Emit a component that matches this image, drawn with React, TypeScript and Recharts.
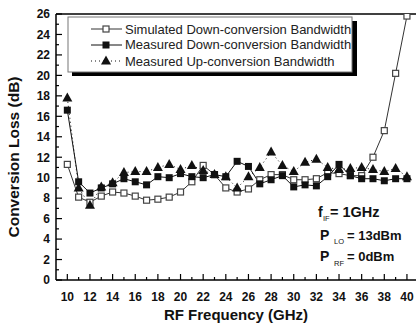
import { LineChart, Line, XAxis, YAxis, ReferenceLine, Customized } from 'recharts'

// RF frequency (GHz) and conversion loss (dB)
const freqs = [10, 11, 12, 13, 14, 15, 16, 17, 18, 19, 20, 21, 22, 23, 24, 25, 26, 27, 28, 29, 30, 31, 32, 33, 34, 35, 36, 37, 38, 39, 40]
const simulatedDown = [11.3, 8.1, 7.6, 8.2, 8.6, 8.5, 8.2, 7.8, 7.9, 8.1, 8.6, 9.6, 11.2, 10.3, 9.0, 8.6, 8.9, 9.8, 10.3, 10.3, 9.8, 9.8, 9.9, 10.5, 10.4, 10.2, 10.2, 12.0, 14.6, 20.2, 25.8]
const measuredDown = [16.6, 9.6, 8.5, 9.0, 9.4, 9.9, 9.6, 9.3, 10.1, 10.0, 10.4, 10.1, 10.0, 10.3, 10.1, 11.6, 11.1, 9.4, 9.8, 10.2, 9.1, 9.3, 9.2, 10.1, 11.3, 10.2, 9.9, 9.9, 9.7, 9.9, 9.9]
const measuredUp = [17.8, 9.0, 7.3, 9.1, 9.5, 10.5, 10.6, 10.6, 11.0, 11.3, 10.8, 11.2, 10.7, 10.3, 10.1, 9.0, 10.1, 11.0, 12.5, 11.2, 10.6, 11.5, 11.8, 11.0, 10.8, 10.9, 11.0, 10.8, 10.6, 10.9, 10.1]

const xTicks = [10, 11, 12, 13, 14, 15, 16, 17, 18, 19, 20, 21, 22, 23, 24, 25, 26, 27, 28, 29, 30, 31, 32, 33, 34, 35, 36, 37, 38, 39, 40]
const yTicks = [0, 1, 2, 3, 4, 5, 6, 7, 8, 9, 10, 11, 12, 13, 14, 15, 16, 17, 18, 19, 20, 21, 22, 23, 24, 25, 26]

const legendNames = ['Simulated Down-conversion Bandwidth', 'Measured Down-conversion Bandwidth', 'Measured Up-conversion Bandwidth']

const data = freqs.map((f, i) => ({ f, sim: simulatedDown[i], down: measuredDown[i], up: measuredUp[i] }))

const FONT = '"Liberation Sans", Arial, sans-serif'

const OpenSquare = ({ cx, cy }: any) => (
  <rect x={cx - 3} y={cy - 3} width={6} height={6} fill="#fff" stroke="#444" strokeWidth={1.2} />
)
const FilledSquare = ({ cx, cy }: any) => (
  <rect x={cx - 3.5} y={cy - 3.5} width={7} height={7} fill="#111" />
)
const Triangle = ({ cx, cy }: any) => (
  <polygon points={`${cx},${cy - 5.5} ${cx - 5},${cy + 3.5} ${cx + 5},${cy + 3.5}`} fill="#111" />
)

const XTick = ({ x, y, payload }: any) => {
  const major = payload.value % 2 === 0
  return (
    <g>
      <line x1={x} y1={y} x2={x} y2={y - (major ? 6 : 3)} stroke="#000" strokeWidth={1.2} />
      {major && (
        <text x={x} y={y + 21} textAnchor="middle" fontSize={12} fontWeight="bold" fontFamily={FONT} fill="#111">
          {payload.value}
        </text>
      )}
    </g>
  )
}

const YTick = ({ x, y, payload }: any) => {
  const major = payload.value % 2 === 0
  return (
    <g>
      <line x1={x} y1={y} x2={x + (major ? 6 : 3)} y2={y} stroke="#000" strokeWidth={1.2} />
      {major && (
        <text x={x - 6} y={y + 4.3} textAnchor="end" fontSize={12} fontWeight="bold" fontFamily={FONT} fill="#111">
          {payload.value}
        </text>
      )}
    </g>
  )
}

const Extras = () => (
  <g fontFamily={FONT}>
    {/* legend box with drop shadow */}
    <rect x={72} y={21} width={285} height={55} fill="#000" />
    <rect x={68} y={17} width={284} height={55} fill="#fff" stroke="#777" strokeWidth={1} />
    <line x1={91} y1={29} x2={122} y2={29} stroke="#333" strokeWidth={1} />
    <OpenSquare cx={106} cy={29} />
    <line x1={91} y1={45} x2={122} y2={45} stroke="#111" strokeWidth={1} />
    <FilledSquare cx={106} cy={45} />
    <line x1={91} y1={61} x2={122} y2={61} stroke="#111" strokeWidth={1} strokeDasharray="1 3" />
    <Triangle cx={106} cy={61} />
    {legendNames.map((n, i) => (
      <text key={n} x={125} y={[33.5, 49, 65.5][i]} fontSize={13} fill="#222">{n}</text>
    ))}

    {/* operating conditions */}
    <g fontWeight="bold" fontSize={14} fill="#111">
      <text x={318} y={217}>f</text>
      <text x={323} y={221} fontSize={7.5} fontWeight="normal">IF</text>
      <text x={330} y={217} fontSize={14.5}>= 1GHz</text>
      <text x={320} y={240}>P</text>
      <text x={334} y={244} fontSize={7.5} fontWeight="normal">LO</text>
      <text x={347} y={240} fontSize={13}>= 13dBm</text>
      <text x={320} y={261}>P</text>
      <text x={334} y={266} fontSize={7.5} fontWeight="normal">RF</text>
      <text x={347} y={261} fontSize={13}>= 0dBm</text>
    </g>

    {/* axis titles */}
    <text x={236} y={320} textAnchor="middle" fontSize={15} fontWeight="bold" fill="#111">RF Frequency (GHz)</text>
    <text x={19} y={157} transform="rotate(-90 19 157)" textAnchor="middle" fontSize={15.5} fontWeight="bold" fill="#111">
      Conversion Loss (dB)
    </text>
  </g>
)

export default function App() {
  return (
    <div style={{ position: 'absolute', left: 0, top: 0, background: '#fff' }}>
      <LineChart width={417} height={324} data={data} margin={{ top: 14, right: 1, left: 0, bottom: 0 }}>
        <XAxis
          dataKey="f"
          type="number"
          domain={[9, 40.8]}
          allowDataOverflow
          ticks={xTicks}
          interval={0}
          tickSize={0}
          tickMargin={0}
          height={44}
          tick={<XTick />}
          axisLine={{ stroke: '#000', strokeWidth: 1.5 }}
        />
        <YAxis
          type="number"
          domain={[0, 26]}
          allowDataOverflow
          ticks={yTicks}
          interval={0}
          tickSize={0}
          tickMargin={0}
          width={56}
          tick={<YTick />}
          axisLine={{ stroke: '#000', strokeWidth: 1.5 }}
        />
        <ReferenceLine y={26} stroke="#000" strokeWidth={1.5} />
        <Line
          dataKey="sim"
          stroke="#333"
          strokeWidth={1}
          dot={(p: any) => <OpenSquare key={p.index} {...p} />}
          isAnimationActive={false}
        />
        <Line
          dataKey="down"
          stroke="#111"
          strokeWidth={1}
          dot={(p: any) => <FilledSquare key={p.index} {...p} />}
          isAnimationActive={false}
        />
        <Line
          dataKey="up"
          stroke="#111"
          strokeWidth={1}
          strokeDasharray="1 3"
          dot={(p: any) => <Triangle key={p.index} {...p} />}
          isAnimationActive={false}
        />
        <Customized component={<Extras />} />
      </LineChart>
    </div>
  )
}
